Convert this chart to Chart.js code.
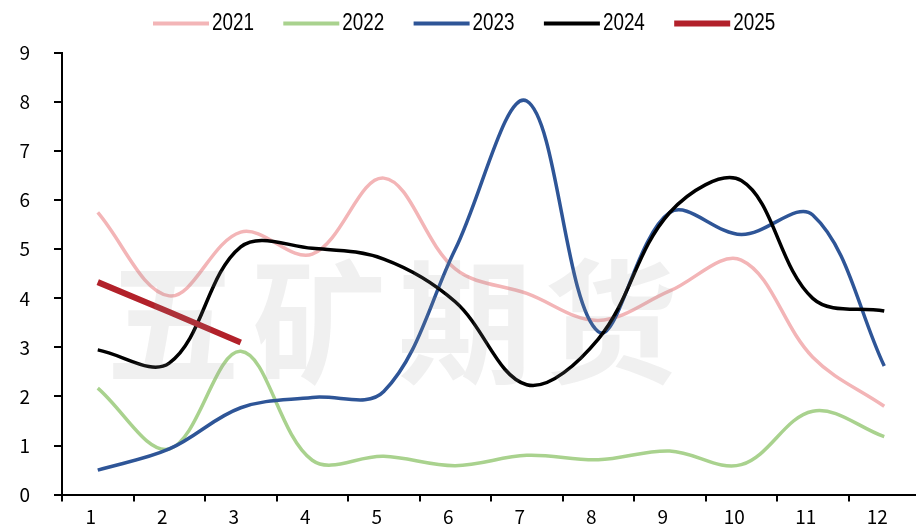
<!DOCTYPE html>
<html>
<head>
<meta charset="utf-8">
<script src="https://cdn.jsdelivr.net/npm/chart.js@4"></script>
<style>
html,body{margin:0;padding:0;background:#fff;}
#wrap{width:916px;height:530px;overflow:hidden;position:relative;}
canvas{display:block;}
</style>
</head>
<body>
<div id="wrap"><canvas id="c" width="920" height="530"></canvas></div>
<script>
const categories = ['1','2','3','4','5','6','7','8','9','10','11','12'];
const seriesNames = ['2021','2022','2023','2024','2025'];
const v2021 = [5.75, 4.05, 5.35, 4.9, 6.45, 4.6, 4.1, 3.55, 4.15, 4.78, 2.8, 1.8];
const v2022 = [2.17, 0.93, 2.92, 0.7, 0.78, 0.59, 0.8, 0.71, 0.89, 0.61, 1.7, 1.18];
const v2023 = [0.5, 0.93, 1.77, 1.98, 2.1, 5.0, 8.02, 3.32, 5.75, 5.3, 5.7, 2.62];
const v2024 = [2.95, 2.68, 5.05, 5.02, 4.8, 3.93, 2.24, 3.17, 5.75, 6.4, 4.0, 3.74];
const v2025 = [4.33, 3.72, 3.1];
const yTicks = [0,1,2,3,4,5,6,7,8,9];
const watermark = '五矿期货';

const colors = ['#F3B5B7', '#A9D28E', '#2E5597', '#000000', '#B2212A'];
const widths = [3.5, 3.5, 3.5, 3.5, 6];
const values = [v2021, v2022, v2023, v2024, v2025];

const datasets = values.map((d, i) => ({
  label: seriesNames[i],
  data: d,
  borderColor: colors[i],
  backgroundColor: colors[i],
  borderWidth: widths[i],
  pointRadius: 0,
  pointHoverRadius: 0,
  tension: i === 4 ? 0 : 0.36,
  fill: false,
  order: 5 - i
}));

const watermarkPlugin = {
  id: 'watermark',
  afterDatasetsDraw(chart) {
    const ctx = chart.ctx;
    ctx.save();
    ctx.font = 'bold 134px "Noto Sans CJK SC"';
    ctx.fillStyle = 'rgba(150,150,150,0.14)';
    ctx.textAlign = 'center';
    ctx.textBaseline = 'middle';
    const chars = Array.from(watermark);
    chars.forEach((ch, i) => ctx.fillText(ch, 173 + i * 146, 322));
    ctx.restore();
  }
};

const legendPlugin = {
  id: 'customLegend',
  afterDraw(chart) {
    const ctx = chart.ctx;
    chart.data.datasets.forEach((ds, i) => {
      const x = 153 + i * 130.3;
      const h = i === 4 ? 6 : 4;
      ctx.save();
      ctx.fillStyle = ds.borderColor;
      ctx.fillRect(x, 23.5 - h / 2, 56, h);
      ctx.translate(x + 59, 24);
      ctx.scale(0.82, 1);
      ctx.font = '23px "Liberation Sans", Arial, sans-serif';
      ctx.textBaseline = 'middle';
      ctx.textAlign = 'left';
      ctx.fillStyle = '#000';
      ctx.fillText(ds.label, 0, 0);
      ctx.restore();
    });
  }
};

new Chart(document.getElementById('c'), {
  type: 'line',
  data: { labels: categories, datasets },
  plugins: [watermarkPlugin, legendPlugin],
  options: {
    responsive: false,
    devicePixelRatio: 1,
    animation: false,
    layout: { padding: { top: 53, left: 0, right: 0, bottom: 0 } },
    plugins: { legend: { display: false }, tooltip: { enabled: false } },
    scales: {
      x: {
        type: 'category',
        offset: true,
        grid: { offset: true, drawOnChartArea: false, drawTicks: true, tickLength: 7, color: '#000', lineWidth: 2 },
        border: { display: true, color: '#000', width: 2 },
        ticks: { color: '#000', font: { family: '"Noto Sans CJK SC", "Noto Sans", sans-serif', size: 19 }, labelOffset: -7, padding: 4, maxRotation: 0, autoSkip: false },
        afterFit(s) { s.height = 35; }
      },
      y: {
        min: 0, max: 9,
        afterBuildTicks(s) { s.ticks = yTicks.map(v => ({ value: v })); },
        grid: { drawOnChartArea: false, drawTicks: true, tickLength: 8, color: '#000', lineWidth: 2 },
        border: { display: true, color: '#000', width: 2 },
        ticks: { color: '#000', font: { family: '"Noto Sans CJK SC", "Noto Sans", sans-serif', size: 19 }, padding: 24 },
        afterFit(s) { s.width = 62; }
      }
    }
  }
});
</script>
</body>
</html>
